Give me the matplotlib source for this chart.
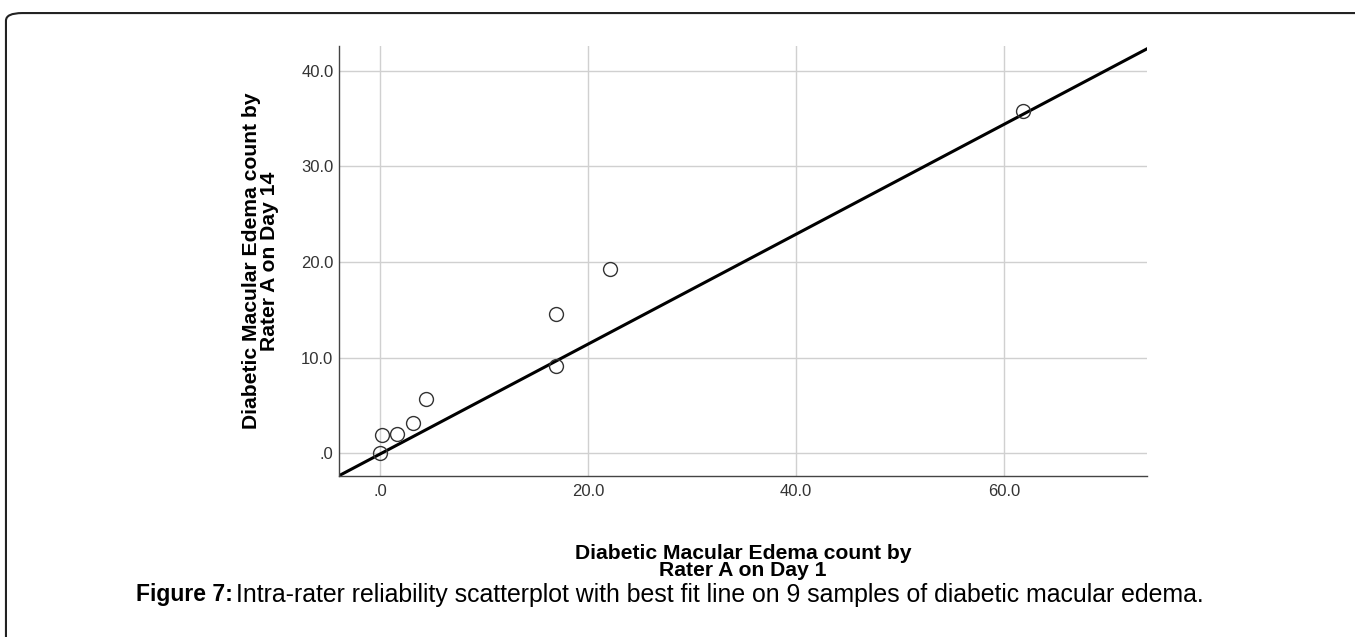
import matplotlib.pyplot as plt
from matplotlib.patches import FancyBboxPatch

plt.rcParams['font.family'] = ['Liberation Sans', 'DejaVu Sans']

# counts
day1 = [0.0, 0.2, 1.6, 3.2, 4.4, 16.9, 16.9, 22.1, 61.8]
day14 = [0.0, 1.9, 2.0, 3.2, 5.7, 14.6, 9.1, 19.3, 35.8]
fit_slope = 0.575
fit_intercept = -0.1

xticks = [0, 20, 40, 60]
xlabels = ['.0', '20.0', '40.0', '60.0']
yticks = [0, 10, 20, 30, 40]
ylabels = ['.0', '10.0', '20.0', '30.0', '40.0']

fig = plt.figure(figsize=(13.55, 6.37), dpi=100)
ax = fig.add_axes([0.2502, 0.2527, 0.5963, 0.6751])

ax.set_xlim(-3.94, 73.75)
ax.set_ylim(-2.4, 42.6)
ax.set_xticks(xticks)
ax.set_xticklabels(xlabels)
ax.set_yticks(yticks)
ax.set_yticklabels(ylabels)
ax.grid(True, color='#d0d0d0', linewidth=1)
ax.set_axisbelow(True)
for s in ['top', 'right']:
    ax.spines[s].set_visible(False)
for s in ['left', 'bottom']:
    ax.spines[s].set_color('#444444')
    ax.spines[s].set_linewidth(1)
ax.tick_params(axis='both', length=0, labelsize=12, labelcolor='#333333')
ax.tick_params(axis='y', pad=4)
ax.tick_params(axis='x', pad=6)

ax.axline((0, fit_intercept), slope=fit_slope, color='black', linewidth=2.2, zorder=2)
ax.plot(day1, day14, 'o', markersize=10, markerfacecolor='none',
        markeredgecolor='#333333', markeredgewidth=1, zorder=3)

ax.set_xlabel('Diabetic Macular Edema count by\nRater A on Day 1',
              fontsize=15.2, fontweight='bold', labelpad=32, linespacing=0.9)
ax.set_ylabel('Diabetic Macular Edema count by\nRater A on Day 14',
              fontsize=15.2, fontweight='bold', labelpad=16, linespacing=0.9)

fig.text(0.1003, 0.066, 'Figure 7:', fontsize=16.5, fontweight='bold', va='center')
fig.text(0.1742, 0.066,
         'Intra-rater reliability scatterplot with best fit line on 9 samples of diabetic macular edema.',
         fontsize=17.9, va='center')

border = FancyBboxPatch((0.0044, -0.1), 1.2, 1.0795,
                        boxstyle='round,pad=0,rounding_size=0.012',
                        transform=fig.transFigure, fill=False,
                        edgecolor='#222222', linewidth=1.5, clip_on=False)
fig.patches.append(border)

fig.savefig('out.png', dpi=100)
